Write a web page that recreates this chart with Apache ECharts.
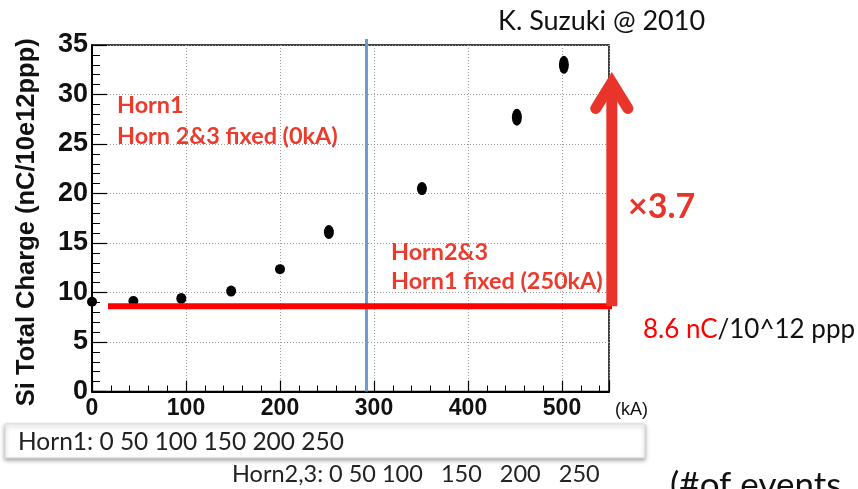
<!DOCTYPE html>
<html>
<head>
<meta charset="utf-8">
<script src="https://cdn.jsdelivr.net/npm/echarts@6/dist/echarts.min.js"></script>
<style>
  html, body { margin: 0; padding: 0; background: #fff; }
  #chart { width: 858px; height: 489px; }
</style>
</head>
<body>
<div id="chart"></div>
<script>
// Horn current scan: total charge collected on the Si detector
const currentKA = [0, 44, 95, 148, 200, 252, 351, 452, 502];
const chargeNC = [9.06, 9.13, 9.4, 10.14, 12.36, 16.1, 20.5, 27.7, 33.0];

// x / y tick labels
const xTickValues = [0, 100, 200, 300, 400, 500];
const yTickValues = [0, 5, 10, 15, 20, 25, 30, 35];

// Reference level and gain
const baselineCharge = 8.6;
const gainFactor = 3.7;
const baselineSpanKA = [17, 772];
const arrowKA = 553;
const dividerKA = 292;

// Horn settings listed under the axis
const horn1Settings = [0, 50, 100, 150, 200, 250];
const horn23Settings = [0, 50, 100, 150, 200, 250];

// marker heights (error spread shown as elongated dots)
const markerHeights = [10, 10, 11, 11, 10, 14, 13, 17, 18];

const RED_TXT = '#ec3a2c';
const chart = echarts.init(document.getElementById('chart'));

const points = currentKA.map((x, i) => ({
  value: [x, chargeNC[i]],
  symbolSize: [10, markerHeights[i]]
}));

const arrowTop = baselineCharge * gainFactor;

chart.setOption({
  animation: false,
  backgroundColor: '#fff',
  grid: {
    left: 92, top: 45, right: 249, bottom: 97.5,
    outerBoundsMode: 'none', containLabel: false,
    show: true, borderColor: '#000', borderWidth: 1.5, backgroundColor: 'transparent'
  },
  xAxis: {
    type: 'value', min: 0, max: 550, interval: 100,
    axisLine: { show: true, lineStyle: { color: '#000', width: 2 } },
    axisTick: { show: true, inside: true, length: 11, lineStyle: { color: '#000', width: 1.2 } },
    minorTick: { show: true, splitNumber: 5, length: 6, lineStyle: { color: '#000', width: 1 } },
    splitLine: { show: true, lineStyle: { color: '#9a9a9a', type: [1, 2], width: 1 } },
    axisLabel: {
      margin: 6, color: '#111', fontFamily: 'Liberation Sans', fontWeight: 'bold', fontSize: 23,
      formatter: v => xTickValues.includes(v) ? String(v) : ''
    }
  },
  yAxis: {
    type: 'value', min: 0, max: 35, interval: 5,
    name: 'Si Total Charge (nC/10e12ppp)', nameLocation: 'middle', nameGap: 52, nameRotate: 90,
    nameTextStyle: { color: '#111', fontFamily: 'Liberation Sans', fontWeight: 'bold', fontSize: 25.5, padding: [0, 8, 0, 0] },
    axisLine: { show: true, lineStyle: { color: '#000', width: 2 } },
    axisTick: { show: true, inside: true, length: 15, lineStyle: { color: '#000', width: 1.2 } },
    minorTick: { show: true, splitNumber: 5, length: 8, lineStyle: { color: '#000', width: 1 } },
    splitLine: { show: true, lineStyle: { color: '#9a9a9a', type: [1, 2], width: 1 } },
    axisLabel: {
      margin: 4, color: '#111', fontFamily: 'Liberation Sans', fontWeight: 'bold', fontSize: 27,
      padding: [10, 0, 0, 0],
      formatter: v => yTickValues.includes(v) ? String(v) : ''
    }
  },
  series: [
    {
      name: 'divider', type: 'line', clip: false, silent: true, symbol: 'none', z: 3,
      data: [[dividerKA, 0], [dividerKA, 35.6]],
      lineStyle: { color: '#6c9bd0', width: 3 }
    },
    {
      name: 'charge', type: 'scatter', z: 4,
      data: points,
      itemStyle: { color: '#000', opacity: 1 }
    },
    {
      name: 'baseline', type: 'line', clip: false, silent: true, symbol: 'none', z: 5,
      data: [[baselineSpanKA[0], baselineCharge], [baselineSpanKA[1], baselineCharge]],
      lineStyle: { color: '#ff0000', width: 6 }
    },
    {
      name: 'gain', type: 'custom', clip: false, silent: true, z: 6,
      data: [[arrowKA, baselineCharge, arrowTop]],
      renderItem: (params, api) => {
        const base = api.coord([api.value(0), api.value(1)]);
        const tip = api.coord([api.value(0), api.value(2)]);
        const col = '#e8342a';
        return {
          type: 'group',
          children: [
            { type: 'line', shape: { x1: base[0], y1: base[1], x2: tip[0], y2: tip[1] + 6 },
              style: { stroke: col, lineWidth: 11 } },
            { type: 'polyline', shape: { points: [[tip[0] - 16, tip[1] + 32], [tip[0], tip[1] + 6], [tip[0] + 16, tip[1] + 32]] },
              style: { stroke: col, lineWidth: 11, fill: null, lineCap: 'round', lineJoin: 'miter' } }
          ]
        };
      }
    }
  ],
  graphic: [
    { type: 'text', x: 498, y: 21, style: { text: 'K. Suzuki @ 2010', font: '27px Lato', fill: '#111', align: 'left', verticalAlign: 'middle' } },
    { type: 'text', x: 117, y: 105, style: { text: 'Horn1', font: 'bold 23.4px Lato', fill: RED_TXT, align: 'left', verticalAlign: 'middle' } },
    { type: 'text', x: 117, y: 136, style: { text: 'Horn 2&3 fixed (0kA)', font: 'bold 23.4px Lato', fill: RED_TXT, align: 'left', verticalAlign: 'middle' } },
    { type: 'text', x: 391, y: 252, style: { text: 'Horn2&3', font: 'bold 23.4px Lato', fill: RED_TXT, align: 'left', verticalAlign: 'middle' } },
    { type: 'text', x: 391, y: 281, style: { text: 'Horn1 fixed (250kA)', font: 'bold 23.4px Lato', fill: RED_TXT, align: 'left', verticalAlign: 'middle' } },
    { type: 'text', x: 628, y: 207, style: { text: '\u00d73.7', font: 'bold 34px Lato', fill: '#e8342a', align: 'left', verticalAlign: 'middle' } },
    { type: 'text', x: 643, y: 330, style: {
        text: '{r|' + baselineCharge + ' nC}/10^12 ppp', font: '26px Lato', fill: '#111', align: 'left', verticalAlign: 'middle',
        rich: { r: { fill: '#ff0000', font: '26px Lato' } } } },
    { type: 'text', x: 615, y: 410, style: { text: '(kA)', font: '18px Liberation Sans', fill: '#111', align: 'left', verticalAlign: 'middle' } },
    { type: 'rect', shape: { x: 5, y: 424, width: 640, height: 34 },
      style: { fill: '#fff', stroke: '#d8d8d8', lineWidth: 1, shadowBlur: 4, shadowOffsetY: 2, shadowColor: 'rgba(0,0,0,0.35)' }, z: 1 },
    { type: 'text', x: 18, y: 442, z: 2, style: { text: 'Horn1: ' + horn1Settings.join(' '), font: '24.5px Lato', fill: '#222', align: 'left', verticalAlign: 'middle' } },
    { type: 'text', x: 232, y: 474, style: { text: 'Horn2,3: ' + horn23Settings.slice(0, 3).join(' ') + '   ' + horn23Settings.slice(3).join('   '), font: '23.5px Lato', fill: '#222', align: 'left', verticalAlign: 'middle' } },
    { type: 'text', x: 670, y: 486, style: { text: '(#of events', font: '35px Lato', fill: '#111', align: 'left', verticalAlign: 'middle' } }
  ]
});
</script>
</body>
</html>
